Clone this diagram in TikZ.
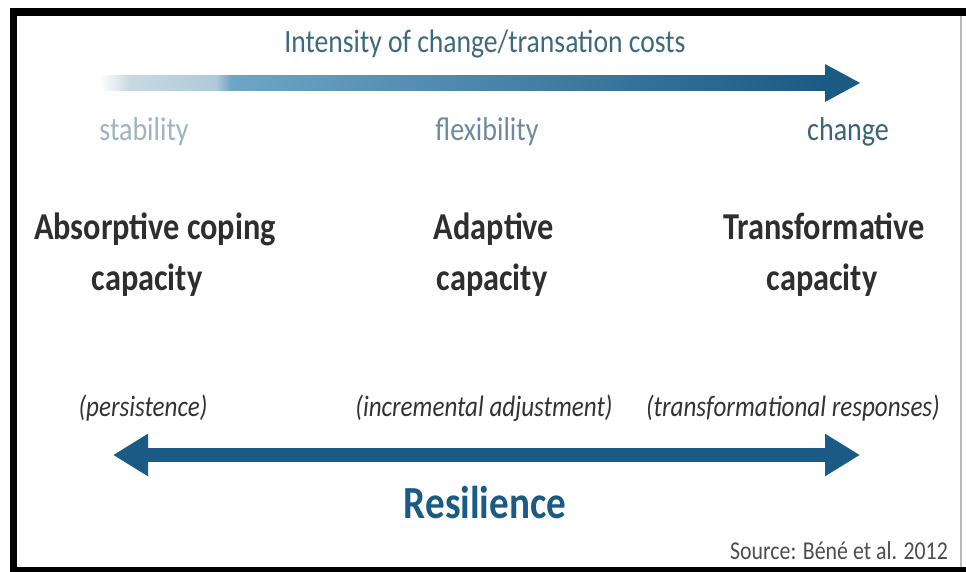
\documentclass[tikz,border=0pt]{standalone}
\usepackage{fontspec}
\setmainfont[FakeStretch=0.85]{Carlito}
\usetikzlibrary{arrows.meta}

\definecolor{resblue}{HTML}{1A5A84}
\definecolor{barmid}{HTML}{6FA5C6}
\definecolor{barlight}{HTML}{C9D9E3}
\definecolor{titlecol}{HTML}{3D6A7C}
\definecolor{stabcol}{HTML}{9FB4C2}
\definecolor{flexcol}{HTML}{6F8A9C}
\definecolor{chgcol}{HTML}{3A6478}
\definecolor{headcol}{HTML}{2E2E2E}
\definecolor{respcol}{HTML}{333333}

% fade of the cost bar, light on the left
\pgfdeclarehorizontalshading{costfade}{100bp}{color(0bp)=(white); color(25bp)=(white);
  color(27bp)=(barlight); color(33bp)=(barlight!70!barmid); color(34bp)=(barmid);
  color(75bp)=(resblue); color(100bp)=(resblue)}

\begin{document}
\begin{tikzpicture}[x=1pt,y=-1pt,every node/.style={inner sep=0pt,anchor=base},
  scalelbl/.style={font=\fontsize{33}{36}\selectfont},
  capbox/.style={font=\fontsize{38}{42}\selectfont\bfseries,text=headcol},
  resp/.style={font=\fontsize{29.5}{32}\selectfont\itshape,text=respcol},
  >={Triangle[length=35pt,width=40pt]}]
\useasboundingbox (0,0) rectangle (966,572);

% frame
\fill[black] (10,8) rectangle (966,16);
\fill[black] (10,8) rectangle (17,572);
\fill[black] (10,567) rectangle (966,572);
\fill[gray!55] (960,16) rectangle (962,567);

% intensity of change
\node[font=\fontsize{32.5}{34}\selectfont,text=titlecol] (title) at (485,53) {Intensity of change/transation costs};
\coordinate (cost-l) at (100,83);
\coordinate (cost-m) at (825,83);
\coordinate (cost-r) at (860,83);
\shade[shading=costfade] ([yshift=-7.5pt]cost-l) rectangle ([yshift=7.5pt]cost-m);
\fill[resblue] ([yshift=-19pt]cost-m) -- (cost-r) -- ([yshift=19pt]cost-m) -- cycle;

\node[scalelbl,text=stabcol] (stab) at (144,141) {stability};
\node[scalelbl,text=flexcol] (flex) at (487,141) {flexibility};
\node[scalelbl,text=chgcol] (chg) at (848,141) {change};

% the three capacities
\foreach \n/\xa/\xb/\a in {abs/155/147/Absorptive coping,ada/494/492/Adaptive,tra/824/822/Transformative} {
  \node[capbox] (\n-1) at (\xa,240) {\a};
  \node[capbox] (\n-2) at (\xb,290) {capacity};
}
\node[resp] (abs-r) at (143,416) {(persistence)};
\node[resp] (ada-r) at (484,416) {(incremental adjustment)};
\node[resp] (tra-r) at (793,416) {(transformational responses)};

% resilience
\coordinate (res-l) at (113,455);
\coordinate (res-r) at (860,455);
\draw[resblue,line width=14pt,<->] (res-l) -- (res-r);
\node[font=\fontsize{46}{50}\selectfont\bfseries,text=resblue] (res) at (485,518) {Resilience};

\node[font=\fontsize{25.7}{28}\selectfont,text=headcol!85] (src) at (839,559) {Source: Béné et al. 2012};
\end{tikzpicture}
\end{document}
